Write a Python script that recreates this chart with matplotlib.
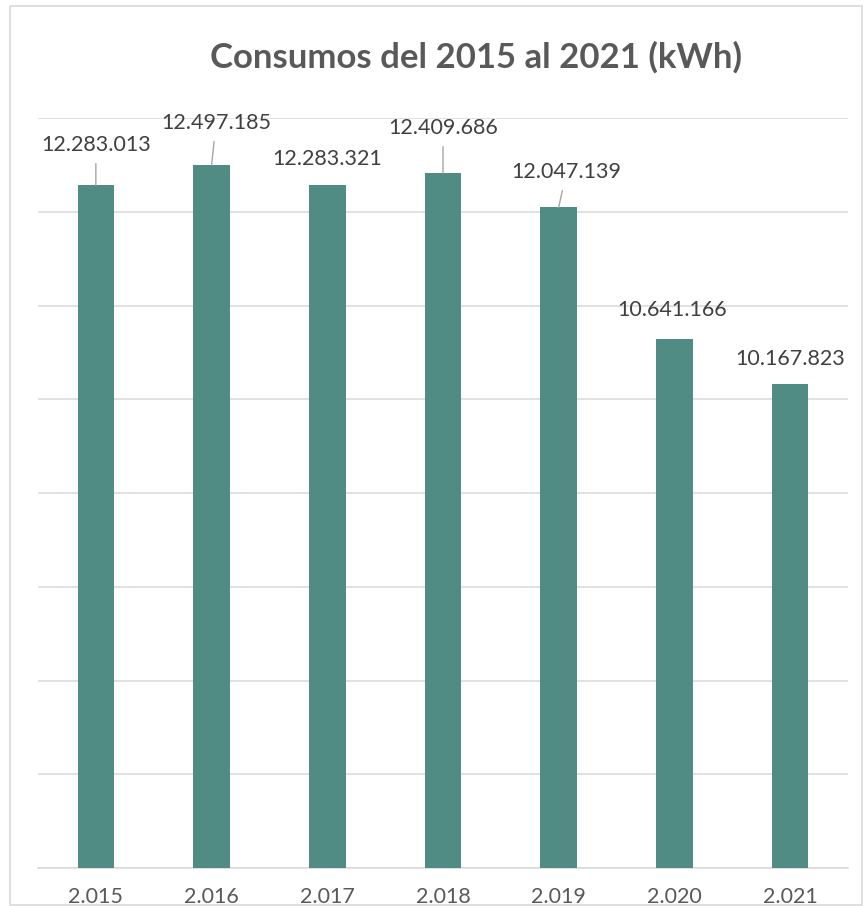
import matplotlib
matplotlib.use('Agg')
import matplotlib.pyplot as plt
from matplotlib.patches import Rectangle

# datos
years = [2015, 2016, 2017, 2018, 2019, 2020, 2021]
consumo = [12283013, 12497185, 12283321, 12409686, 12047139, 10641166, 10167823]

# desplazamiento de etiquetas (px) y si llevan linea guia
lbl_dx = [0, 4.5, 0, 0, 7.5, -2.5, 0]
lbl_dy = [40, 42, 26, 45, 35, 29, 25]
guia = [True, True, False, True, True, False, False]


def miles(n):
    return f"{n:,}".replace(',', '.')


plt.rcParams['font.family'] = ['Lato', 'DejaVu Sans']

fig = plt.figure(figsize=(8.63, 9.06), dpi=100)
W, H = 863, 906
ax = fig.add_axes([38 / W, 38 / H, 810 / W, 750 / H])

x = list(range(len(years)))
ax.bar(x, consumo, width=0.315, color='#508C84', zorder=3)

ax.set_ylim(5000000, 13000000)
ax.set_xlim(-0.5, len(years) - 0.5)
ax.set_yticks(range(5000000, 13000001, 1000000))
ax.yaxis.grid(True, color='#D9D9D9', linewidth=1.1, zorder=0)
ax.set_yticklabels([])
ax.tick_params(axis='y', length=0)
for s in ['top', 'right', 'left']:
    ax.spines[s].set_visible(False)
ax.spines['bottom'].set_color('#D9D9D9')
ax.spines['bottom'].set_linewidth(1.1)

ax.set_xticks(x)
ax.set_xticklabels([miles(y) for y in years], fontsize=15.5, color='#595959')
ax.tick_params(axis='x', length=0, pad=14)

for i, v in enumerate(consumo):
    props = None
    if guia[i]:
        props = dict(arrowstyle='-', color='#A6A6A6', lw=1.0, shrinkA=4, shrinkB=0)
    ax.annotate(miles(v), xy=(i, v), xytext=(lbl_dx[i], lbl_dy[i]),
                textcoords='offset pixels', ha='center', va='center',
                fontsize=15.5, color='#404040', arrowprops=props, zorder=4)

fig.text(476 / W, 1 - 57 / H, 'Consumos del 2015 al 2021 (kWh)', ha='center', va='center',
         fontsize=25, fontweight='bold', color='#595959')

fig.patches.append(Rectangle((10 / W, 1 / H), 852 / W, 899 / H, transform=fig.transFigure,
                             fill=False, edgecolor='#D9D9D9', linewidth=1.2))

fig.savefig('out.png', dpi=100)
